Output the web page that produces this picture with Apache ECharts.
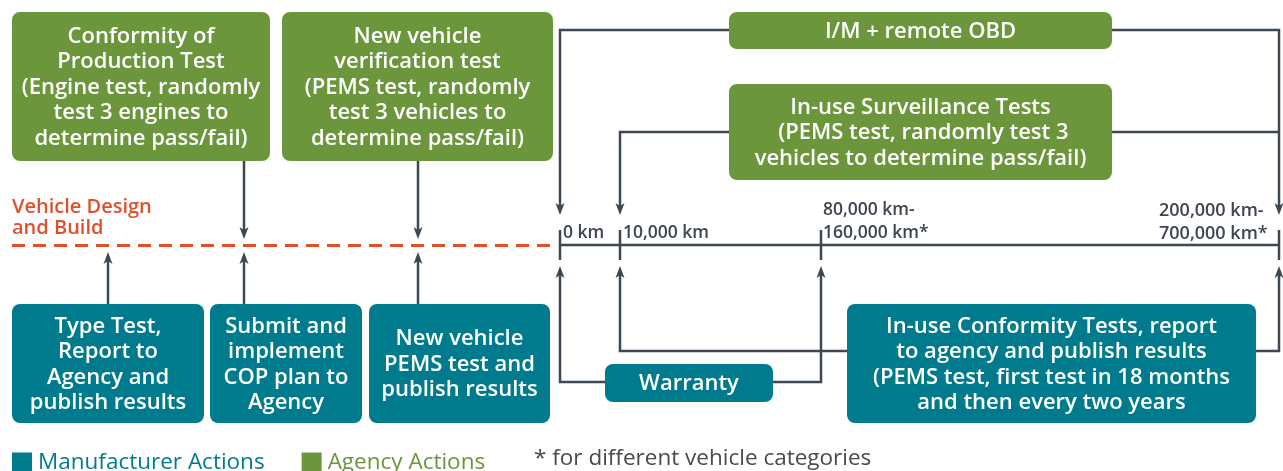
<!DOCTYPE html>
<html lang="en">
<head>
    <meta charset="UTF-8">
    <title>Compliance timeline</title>
    <script src="https://cdn.jsdelivr.net/npm/echarts@6/dist/echarts.min.js"></script>
</head>
<body style="margin:0">
<div id="main" style="width:1283px;height:471px;"></div>
<script type="text/javascript">
    // texts of the diagram
    var agencyTexts = [
        'Conformity of\nProduction Test\n(Engine test, randomly\ntest 3 engines to\ndetermine pass/fail)',
        'New vehicle\nverification test\n(PEMS test, randomly\ntest 3 vehicles to\ndetermine pass/fail)',
        'I/M + remote OBD',
        'In-use Surveillance Tests\n (PEMS test, randomly test 3\nvehicles to determine pass/fail)'
    ];
    var manufacturerTexts = [
        'Type Test,\nReport to\nAgency and\npublish results',
        'Submit and\nimplement\nCOP plan to\nAgency',
        'New vehicle\nPEMS test and\npublish results',
        'Warranty',
        'In-use Conformity Tests, report\nto agency and publish results\n(PEMS test, first test in 18 months\nand then every two years'
    ];
    var milestoneLabels = ['0 km', '10,000 km', '80,000 km-\n160,000 km*', '200,000 km-\n700,000 km*'];
    var phaseLabel = 'Vehicle Design\nand Build';
    var legendNames = ['Manufacturer Actions', 'Agency Actions'];
    var footnote = '* for different vehicle categories';

    // layout (page units, y grows downwards)
    var agencyRects = [[12, 12, 270, 161], [282, 12, 553, 161], [729, 12, 1112, 49], [729, 84, 1112, 180]];
    var manuRects = [[12, 304, 204, 423], [210, 304, 362, 423], [369, 304, 550, 423], [605, 364, 773, 402], [847, 304, 1256, 423]];
    var milestoneX = [560, 620, 821, 1279];
    var axisY = 245;

    var GREEN = '#6c963c', TEAL = '#007b8d', LINE = '#3d4853', ORANGE = '#e0502a';
    var FONT = '"Open Sans", sans-serif';
    var HEAD_LEN = 12, HEAD_W = 4.5;

    // connectors ending in an arrow (last point = arrow tip)
    var arrowPaths = [
        [[244, 161], [244, 239]],
        [[418, 161], [418, 239]],
        [[729, 30], [560, 30], [560, 215]],
        [[1112, 30], [1279, 30], [1279, 215]],
        [[729, 132], [620, 132], [620, 215]],
        [[108, 304], [108, 252]],
        [[244, 304], [244, 252]],
        [[418, 304], [418, 252]],
        [[605, 382], [560, 382], [560, 266]],
        [[773, 382], [821, 382], [821, 266]],
        [[847, 351], [620, 351], [620, 266]],
        [[1256, 351], [1279, 351], [1279, 266]]
    ];
    var plainPaths = [
        [[1112, 132], [1279, 132]],
        [[560, axisY], [1279, axisY]]
    ];
    milestoneX.forEach(function (x) {
        plainPaths.push([[x, 230], [x, 260]]);
    });

    function dirOf(p) {
        return p[p.length - 1][1] > p[p.length - 2][1] ? 1 : -1;
    }
    // shafts stop inside the head
    var shafts = arrowPaths.map(function (p) {
        var q = p.slice(0, p.length - 1);
        var b = p[p.length - 1];
        q.push([b[0], b[1] - dirOf(p) * (HEAD_LEN - 3)]);
        return {coords: q};
    });

    var textItems = [
        [12, 218, phaseLabel, ORANGE, '600 20px ' + FONT, 21],
        [563, 233, milestoneLabels[0], '#3d4650', '600 17.5px ' + FONT, 22],
        [623, 233, milestoneLabels[1], '#3d4650', '600 17.5px ' + FONT, 22],
        [823, 222, milestoneLabels[2], '#3d4650', '600 17.5px ' + FONT, 23],
        [1159, 222, milestoneLabels[3], '#3d4650', '600 18px ' + FONT, 23],
        [534, 459, footnote, '#4a4a4a', '400 22.5px ' + FONT, 22]
    ];

    function boxSeries(name, rects, texts, color) {
        return {
            name: name,
            type: 'custom',
            coordinateSystem: 'cartesian2d',
            itemStyle: {color: color},
            z: 5,
            data: rects.map(function (r) { return [(r[0] + r[2]) / 2, (r[1] + r[3]) / 2]; }),
            renderItem: function (params, api) {
                var r = rects[params.dataIndex];
                var p0 = api.coord([r[0], r[1]]);
                var p1 = api.coord([r[2], r[3]]);
                return {
                    type: 'group',
                    children: [{
                        type: 'rect',
                        shape: {x: p0[0], y: p0[1], width: p1[0] - p0[0], height: p1[1] - p0[1], r: 8},
                        style: {fill: color}
                    }, {
                        type: 'text',
                        x: (p0[0] + p1[0]) / 2,
                        y: (p0[1] + p1[1]) / 2 + 1,
                        style: {
                            text: texts[params.dataIndex],
                            fill: '#fff',
                            font: '600 22px ' + FONT,
                            align: 'center',
                            verticalAlign: 'middle',
                            lineHeight: 25.5
                        }
                    }]
                };
            }
        };
    }

    var myChart = echarts.init(document.getElementById('main'));
    var option = {
        animation: false,
        grid: {left: 0, right: 0, top: 0, bottom: 0},
        xAxis: {type: 'value', min: 0, max: 1283, show: false},
        yAxis: {type: 'value', min: 0, max: 471, inverse: true, show: false},
        legend: {
            left: 12,
            top: 451,
            padding: 0,
            itemWidth: 20,
            itemHeight: 20,
            itemGap: 37,
            icon: 'rect',
            selectedMode: false,
            data: [
                {name: legendNames[0], textStyle: {color: TEAL}},
                {name: legendNames[1], textStyle: {color: GREEN}}
            ],
            textStyle: {fontFamily: FONT, fontSize: 22.5, fontWeight: 400, padding: [0, 0, 4, 1]}
        },
        series: [
            {
                type: 'lines',
                coordinateSystem: 'cartesian2d',
                polyline: true,
                lineStyle: {color: LINE, width: 2.5, opacity: 1},
                data: shafts.concat(plainPaths.map(function (p) { return {coords: p}; }))
            },
            {
                // arrow heads
                type: 'custom',
                coordinateSystem: 'cartesian2d',
                data: arrowPaths.map(function (p) { return p[p.length - 1]; }),
                renderItem: function (params, api) {
                    var d = dirOf(arrowPaths[params.dataIndex]);
                    var t = api.coord([api.value(0), api.value(1)]);
                    return {
                        type: 'polygon',
                        shape: {points: [
                            [t[0], t[1]],
                            [t[0] - HEAD_W, t[1] - d * HEAD_LEN],
                            [t[0], t[1] - d * (HEAD_LEN - 3)],
                            [t[0] + HEAD_W, t[1] - d * HEAD_LEN]
                        ]},
                        style: {fill: LINE}
                    };
                }
            },
            {
                type: 'lines',
                coordinateSystem: 'cartesian2d',
                lineStyle: {color: ORANGE, width: 3, opacity: 1, type: [13, 8]},
                data: [{coords: [[12, axisY], [558, axisY]]}]
            },
            boxSeries(legendNames[1], agencyRects, agencyTexts, GREEN),
            boxSeries(legendNames[0], manuRects, manufacturerTexts, TEAL),
            {
                type: 'custom',
                coordinateSystem: 'cartesian2d',
                data: textItems.map(function (t) { return [t[0], t[1]]; }),
                renderItem: function (params, api) {
                    var t = textItems[params.dataIndex];
                    var p = api.coord([t[0], t[1]]);
                    return {
                        type: 'text',
                        x: p[0],
                        y: p[1],
                        style: {text: t[2], fill: t[3], font: t[4], align: 'left', verticalAlign: 'middle', lineHeight: t[5]}
                    };
                }
            }
        ]
    };
    myChart.setOption(option);
</script>
</body>
</html>
